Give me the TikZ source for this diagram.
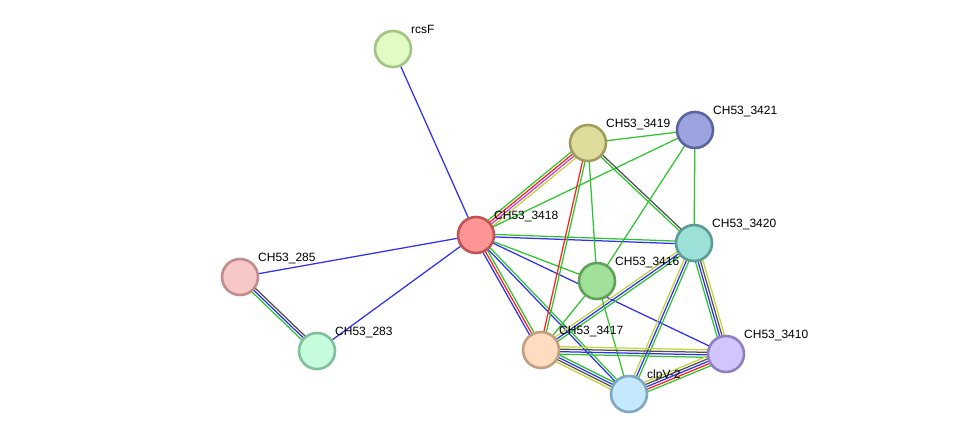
\documentclass[tikz,border=0pt]{standalone}
\usepackage{fontspec}
\setmainfont{Liberation Sans}
\usetikzlibrary{calc}
\usetikzlibrary{backgrounds}

% line colours
\definecolor{cgreen}{HTML}{2EC42E}
\definecolor{cred}{HTML}{FF2020}
\definecolor{cblue}{HTML}{3030F0}
\definecolor{cyell}{HTML}{C2D43A}
\definecolor{cdark}{HTML}{505050}
\definecolor{cmag}{HTML}{D040D0}

% node colours (fill / rim)
\definecolor{frcsF}{HTML}{E0FCC4}  \definecolor{drcsF}{HTML}{A4C484}
\definecolor{f3418}{HTML}{FF9494}  \definecolor{d3418}{HTML}{C05454}
\definecolor{f3419}{HTML}{E0DC9C}  \definecolor{d3419}{HTML}{A09C5C}
\definecolor{f3421}{HTML}{9CA4E0}  \definecolor{d3421}{HTML}{5C64A0}
\definecolor{f3420}{HTML}{9CE0D8}  \definecolor{d3420}{HTML}{5C9C94}
\definecolor{f3416}{HTML}{A0E098}  \definecolor{d3416}{HTML}{60A058}
\definecolor{f285}{HTML}{F8C8C8}   \definecolor{d285}{HTML}{C08C8C}
\definecolor{f283}{HTML}{C4FCDC}   \definecolor{d283}{HTML}{80C09C}
\definecolor{f3417}{HTML}{FFDCC0}  \definecolor{d3417}{HTML}{C0A080}
\definecolor{f3410}{HTML}{D4C4FC}  \definecolor{d3410}{HTML}{9080C0}
\definecolor{fclpV}{HTML}{C4E8FC}  \definecolor{dclpV}{HTML}{80A8C0}

\tikzset{
  prot/.style = {circle, minimum size = 36pt, inner sep = 0pt, line width = 2.6pt},
  lbl/.style = {anchor = base west, inner sep = 0pt, font = \fontsize{12}{14}\selectfont},
  edge/.style = {line width = 1.25pt}
}

% parallel strokes between two proteins, one per colour
\newcommand\evid[3]{%
  \foreach \c [count = \i] in {#3} {\xdef\nlines{\i}}
  \foreach \c [count = \i] in {#3} {
    \pgfmathsetmacro\off{(\i - (\nlines + 1) / 2) * 2.5}
    \draw[edge, \c] ($(#1)!\off pt!90:(#2)$) -- ($(#2)!\off pt!-90:(#1)$);
  }%
}

\begin{document}
\begin{tikzpicture}[x = 1pt, y = -1pt]
  \useasboundingbox (0, 0) rectangle (975, 440);

  \foreach \n/\x/\y/\t in {rcsF/393/49/rcsF, 3418/476/235/CH53\_3418,
    3419/588/143/CH53\_3419, 3421/695/130/CH53\_3421,
    3420/694/243/CH53\_3420, 3416/597/281/CH53\_3416,
    285/240/277/CH53\_285, 283/317/351/CH53\_283,
    3417/541/350/CH53\_3417, 3410/726/354/CH53\_3410,
    clpV/629/394/clpV-2}
  {
    \node[prot, fill = f\n, draw = d\n] (p\n) at (\x, \y) {};
    \node[lbl] (l\n) at ($(p\n) + (18, -16)$) {\t};
  }

  \begin{scope}[on background layer]
    \evid{prcsF}{p3418}{cblue}
    \evid{p3418}{p285}{cblue}
    \evid{p3418}{p283}{cblue}
    \evid{p285}{p283}{cgreen, cblue, cdark}
    \evid{p3418}{p3419}{cyell, cmag, cred, cgreen}
    \evid{p3418}{p3421}{cgreen}
    \evid{p3418}{p3420}{cblue, cgreen}
    \evid{p3418}{p3416}{cgreen}
    \evid{p3418}{p3410}{cblue}
    \evid{p3418}{p3417}{cblue, cred, cgreen}
    \evid{p3418}{pclpV}{cblue, cgreen}
    \evid{p3419}{p3421}{cgreen}
    \evid{p3419}{p3420}{cgreen, cdark}
    \evid{p3419}{p3416}{cgreen}
    \evid{p3419}{p3417}{cred, cgreen}
    \evid{p3421}{p3420}{cgreen}
    \evid{p3421}{p3416}{cgreen}
    \evid{p3420}{p3417}{cyell, cblue, cgreen}
    \evid{p3420}{pclpV}{cyell, cblue, cgreen}
    \evid{p3420}{p3410}{cgreen, cblue, cdark, cyell}
    \evid{p3416}{p3417}{cgreen}
    \evid{p3416}{pclpV}{cgreen}
    \evid{p3417}{p3410}{cgreen, cblue, cdark, cyell}
    \evid{p3417}{pclpV}{cyell, cdark, cblue, cgreen}
    \evid{pclpV}{p3410}{cgreen, cred, cblue, cdark, cyell}
  \end{scope}
\end{tikzpicture}
\end{document}
